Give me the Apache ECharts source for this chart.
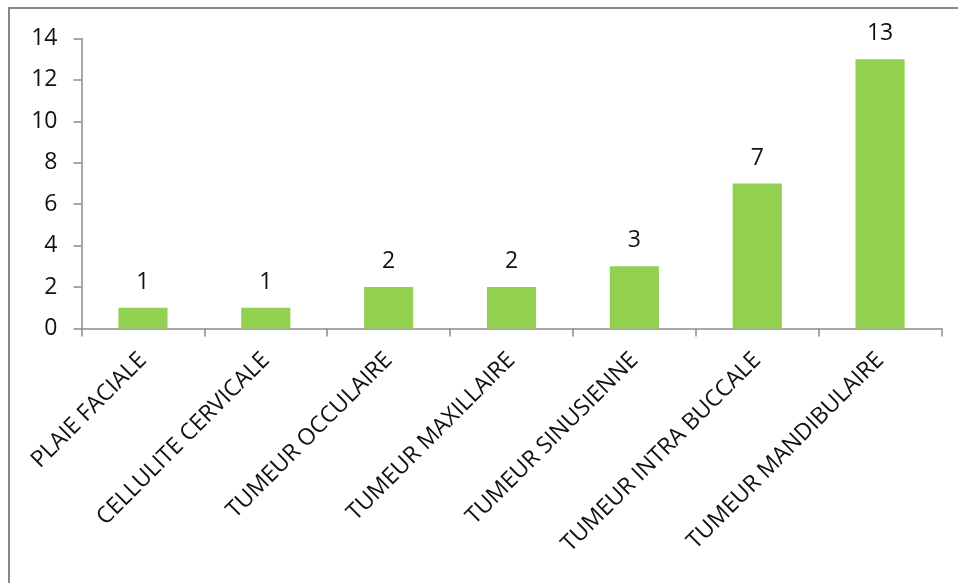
<!DOCTYPE html>
<html><head><meta charset="utf-8">
<script src="https://cdn.jsdelivr.net/npm/echarts@6/dist/echarts.min.js"></script>
<style>html,body{margin:0;padding:0;background:#fff}#c{width:958px;height:583px}</style>
</head><body><div id="c"></div>
<script>
const categories = ['PLAIE FACIALE','CELLULITE CERVICALE','TUMEUR OCCULAIRE','TUMEUR MAXILLAIRE','TUMEUR SINUSIENNE','TUMEUR INTRA BUCCALE','TUMEUR MANDIBULAIRE'];
const values = [1,1,2,2,3,7,13];
const yTicks = [0,2,4,6,8,10,12,14];

const chart = echarts.init(document.getElementById('c'), null, {renderer:'canvas'});
const font = 'Open Sans';
chart.setOption({
  animation:false,
  backgroundColor:'#fff',
  graphic:[{type:'rect',shape:{x:9,y:8,width:1000,height:700},style:{fill:'none',stroke:'#878787',lineWidth:2},silent:true}],
  grid:{left:81.5,right:16.5,top:38.5,bottom:254.5,containLabel:false},
  xAxis:{type:'category',data:categories,boundaryGap:true,
    axisLine:{lineStyle:{color:'#8c8c8c',width:1.5}},
    axisTick:{show:true,length:8,alignWithLabel:false,lineStyle:{color:'#8c8c8c',width:1.5}},
    axisLabel:{rotate:45,interval:0,margin:28,color:'#111',fontFamily:font,fontSize:23}},
  yAxis:{type:'value',min:yTicks[0],max:yTicks[yTicks.length-1],interval:2,
    splitLine:{show:false},
    axisLine:{show:true,lineStyle:{color:'#8c8c8c',width:1.5}},
    axisTick:{show:true,length:8,lineStyle:{color:'#8c8c8c',width:1.5}},
    axisLabel:{margin:24,color:'#111',fontFamily:font,fontSize:23}},
  series:[{type:'bar',data:values,barWidth:'40%',
    itemStyle:{color:'#92D050'},
    label:{show:true,position:'top',distance:14,color:'#111',fontFamily:font,fontSize:23}}]
});
</script></body></html>
